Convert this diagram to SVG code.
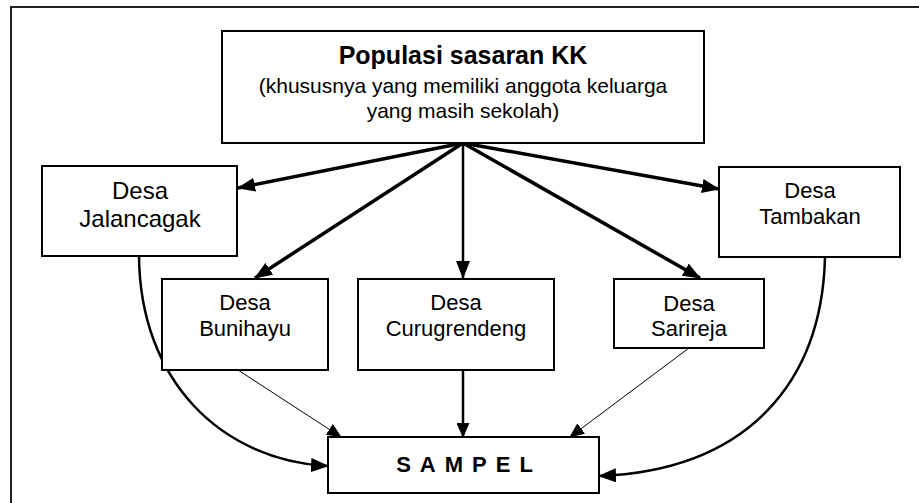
<svg xmlns="http://www.w3.org/2000/svg" width="919" height="503" viewBox="0 0 919 503">
<style>
.box{fill:#fff;stroke:#000;stroke-width:2}
.t{font-family:"Liberation Sans",Arial,sans-serif;fill:#000;text-anchor:middle}
.c{fill:none;stroke:#000}
</style>
<defs>
<marker id="ah" markerUnits="userSpaceOnUse" markerWidth="18" markerHeight="14" refX="17" refY="7" orient="auto"><path d="M0,0 L18,7 L0,14 Z" fill="#000"/></marker>
<marker id="as" markerUnits="userSpaceOnUse" markerWidth="15" markerHeight="13" refX="14" refY="6.5" orient="auto"><path d="M0,0 L15,6.5 L0,13 Z" fill="#000"/></marker>
</defs>
<rect width="919" height="503" fill="#fff"/>
<path d="M11,503 V7 H919" fill="none" stroke="#222" stroke-width="2"/>
<g id="connectors">
<line class="c" x1="463" y1="143" x2="238" y2="188" stroke-width="3.5" marker-end="url(#ah)"/>
<line class="c" x1="463" y1="143" x2="255" y2="278" stroke-width="3.5" marker-end="url(#ah)"/>
<line class="c" x1="463" y1="143" x2="463" y2="278" stroke-width="2.5" marker-end="url(#ah)"/>
<line class="c" x1="463" y1="143" x2="700" y2="278" stroke-width="3.5" marker-end="url(#ah)"/>
<line class="c" x1="463" y1="143" x2="719" y2="189" stroke-width="3.5" marker-end="url(#ah)"/>
<line class="c" x1="238" y1="370" x2="341" y2="437" stroke-width="1" marker-end="url(#as)"/>
<line class="c" x1="463" y1="370" x2="463" y2="437" stroke-width="2.5" marker-end="url(#as)"/>
<line class="c" x1="689" y1="348" x2="570" y2="437" stroke-width="1" marker-end="url(#as)"/>
<path class="c" d="M139,256 C140,380 220,460 328,466" stroke-width="2.5" marker-end="url(#ah)"/>
<path class="c" d="M825,257 C822,380 750,470 599,476" stroke-width="2.5" marker-end="url(#ah)"/>
</g>
<g id="populasi">
<rect class="box" x="222" y="31" width="482" height="112"/>
<text class="t" x="463" y="64" font-size="25" font-weight="bold">Populasi sasaran KK</text>
<text class="t" x="463" y="93" font-size="21">(khususnya yang memiliki anggota keluarga</text>
<text class="t" x="463" y="118" font-size="21">yang masih sekolah)</text>
</g>
<g id="jalancagak">
<rect class="box" x="42" y="166" width="195" height="90"/>
<text class="t" x="140" y="199" font-size="24">Desa</text>
<text class="t" x="140" y="227" font-size="24">Jalancagak</text>
</g>
<g id="tambakan">
<rect class="box" x="719" y="167" width="181" height="90"/>
<text class="t" x="810" y="198" font-size="22">Desa</text>
<text class="t" x="810" y="224" font-size="22">Tambakan</text>
</g>
<g id="bunihayu">
<rect class="box" x="162" y="279" width="166" height="91"/>
<text class="t" x="245" y="310" font-size="22">Desa</text>
<text class="t" x="245" y="336" font-size="22">Bunihayu</text>
</g>
<g id="curugrendeng">
<rect class="box" x="358" y="279" width="196" height="91"/>
<text class="t" x="456" y="310" font-size="22">Desa</text>
<text class="t" x="456" y="336" font-size="22">Curugrendeng</text>
</g>
<g id="sarireja">
<rect class="box" x="614" y="279" width="150" height="69"/>
<text class="t" x="689" y="311" font-size="22">Desa</text>
<text class="t" x="689" y="336" font-size="22">Sarireja</text>
</g>
<g id="sampel">
<rect class="box" x="328" y="437" width="271" height="56"/>
<text class="t" x="469" y="472" font-size="22" font-weight="bold" letter-spacing="9">SAMPEL</text>
</g>
</svg>
